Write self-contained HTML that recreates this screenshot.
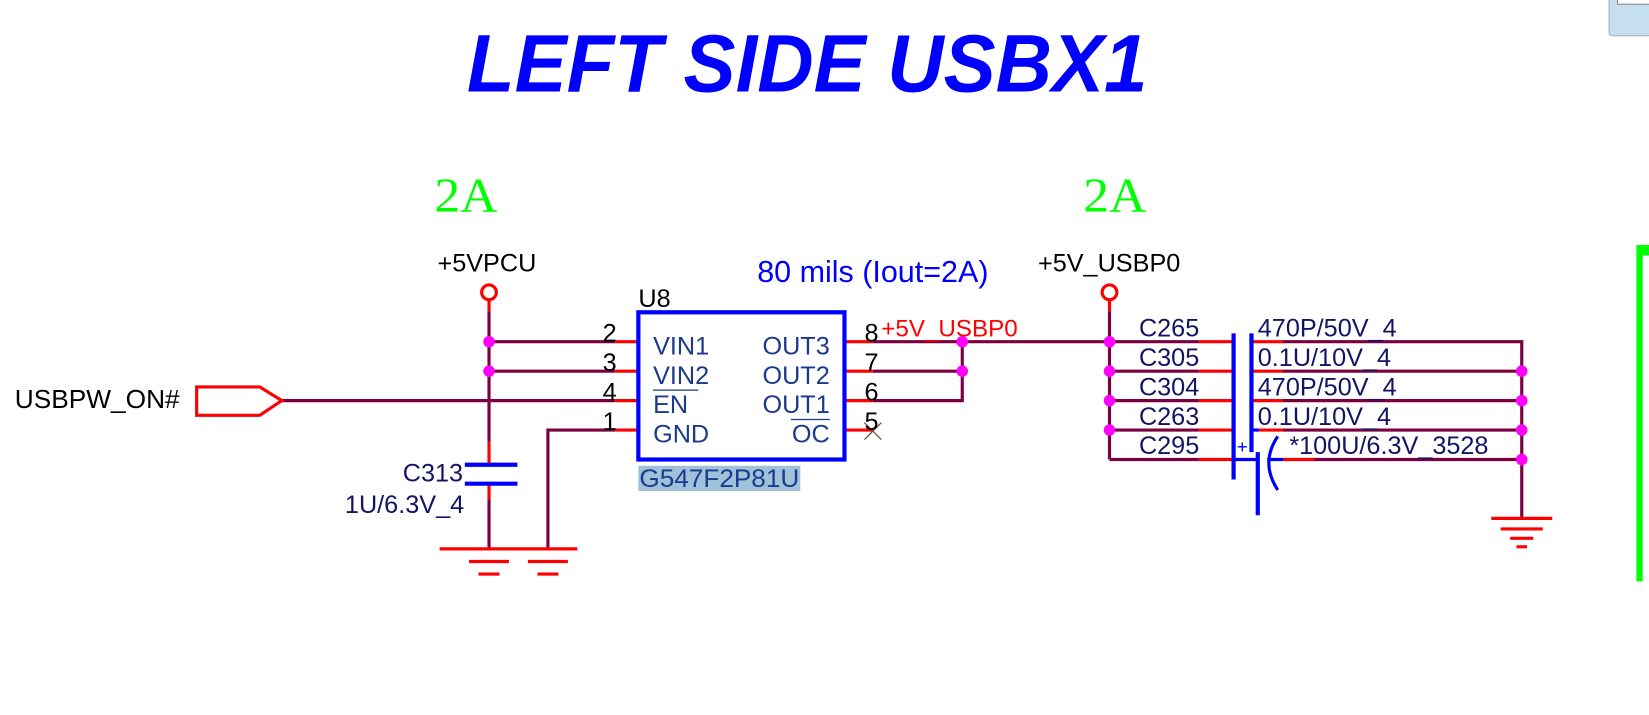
<!DOCTYPE html>
<html><head><meta charset="utf-8"><style>
html,body{margin:0;padding:0;background:#fff;}
svg{display:block;}
text{font-family:"Liberation Sans",sans-serif;}
.mono{font-family:"Liberation Serif",serif;}
</style></head><body>
<svg width="1649" height="715" viewBox="0 0 1568 680" preserveAspectRatio="none" xmlns="http://www.w3.org/2000/svg">
<rect x="0" y="0" width="1568" height="680" fill="#fff"/>
<rect x="1530" y="-4" width="44" height="38" rx="3" fill="#c5dff0" stroke="#aab" stroke-width="1"/>
<rect x="1538" y="-2" width="40" height="6" fill="#fff" stroke="#888" stroke-width="1"/>
<rect x="1556" y="233" width="14" height="320" fill="#00ff00"/>
<rect x="1562" y="243" width="8" height="310" fill="#fff"/>
<text x="444" y="87" font-size="78" font-weight="bold" font-style="italic" fill="#0000ff" textLength="647" lengthAdjust="spacingAndGlyphs">LEFT SIDE USBX1</text>
<text class="mono" x="413" y="201" font-size="46" fill="#00ff00" textLength="60" lengthAdjust="spacingAndGlyphs">2A</text>
<text class="mono" x="1030" y="201" font-size="46" fill="#00ff00" textLength="60" lengthAdjust="spacingAndGlyphs">2A</text>

<text x="416" y="258" font-size="24" fill="#000">+5VPCU</text>
<text x="987" y="258" font-size="24" fill="#000">+5V_USBP0</text>
<text x="720" y="268" font-size="29" fill="#0000ff">80 mils (Iout=2A)</text>
<text x="14" y="388" font-size="25" fill="#000">USBPW_ON#</text>

<g fill="none" stroke-width="3">
<circle cx="465" cy="278" r="7" stroke="#ff0000"/>
<circle cx="1055" cy="278" r="7" stroke="#ff0000"/>
<line x1="465" y1="285" x2="465" y2="296" stroke="#ff0000"/>
<line x1="1055" y1="285" x2="1055" y2="296" stroke="#ff0000"/>
<g stroke="#7a0040">
<line x1="465" y1="296" x2="465" y2="420"/>
<line x1="465" y1="475" x2="465" y2="522"/>
<line x1="465" y1="325" x2="585" y2="325"/>
<line x1="465" y1="353" x2="585" y2="353"/>
<line x1="268" y1="381" x2="585" y2="381"/>
<polyline points="521,522 521,409 585,409"/>
<line x1="830" y1="325" x2="1055" y2="325"/>
<polyline points="830,353 915,353"/>
<polyline points="830,381 915,381 915,325"/>
<line x1="1055" y1="296" x2="1055" y2="437"/>
<line x1="1055" y1="353" x2="1140" y2="353"/>
<line x1="1055" y1="381" x2="1140" y2="381"/>
<line x1="1055" y1="409" x2="1140" y2="409"/>
<line x1="1055" y1="437" x2="1140" y2="437"/>
<line x1="1055" y1="325" x2="1140" y2="325"/>
<polyline points="1220,325 1447,325 1447,492"/>
<line x1="1220" y1="353" x2="1447" y2="353"/>
<line x1="1220" y1="381" x2="1447" y2="381"/>
<line x1="1220" y1="409" x2="1447" y2="409"/>
<line x1="1250" y1="437" x2="1447" y2="437"/>
</g>
<g stroke="#ff0000">
<line x1="465" y1="420" x2="465" y2="442"/>
<line x1="465" y1="460" x2="465" y2="475"/>
<line x1="585" y1="325" x2="607" y2="325"/>
<line x1="585" y1="353" x2="607" y2="353"/>
<line x1="585" y1="381" x2="607" y2="381"/>
<line x1="585" y1="409" x2="607" y2="409"/>
<line x1="803" y1="325" x2="830" y2="325"/>
<line x1="803" y1="353" x2="830" y2="353"/>
<line x1="803" y1="381" x2="830" y2="381"/>
<line x1="803" y1="409" x2="830" y2="409"/>
<line x1="1140" y1="325" x2="1172" y2="325"/>
<line x1="1140" y1="353" x2="1172" y2="353"/>
<line x1="1140" y1="381" x2="1172" y2="381"/>
<line x1="1140" y1="409" x2="1172" y2="409"/>
<line x1="1140" y1="437" x2="1172" y2="437"/>
<line x1="1190" y1="325" x2="1220" y2="325"/>
<line x1="1190" y1="353" x2="1220" y2="353"/>
<line x1="1190" y1="381" x2="1220" y2="381"/>
<line x1="1197" y1="409" x2="1220" y2="409"/>
<line x1="1220" y1="437" x2="1250" y2="437"/>
<line x1="418" y1="522" x2="549" y2="522"/>
<line x1="446" y1="534" x2="484" y2="534"/>
<line x1="502" y1="534" x2="540" y2="534"/>
<line x1="455" y1="546" x2="475" y2="546"/>
<line x1="511" y1="546" x2="531" y2="546"/>
<line x1="1418" y1="493" x2="1476" y2="493"/>
<line x1="1427" y1="503" x2="1467" y2="503"/>
<line x1="1436" y1="512" x2="1458" y2="512"/>
<line x1="1442" y1="520" x2="1452" y2="520"/>
<polygon points="187,368 247,368 268,381 247,395 187,395"/>
</g>
<g stroke="#0000ff" stroke-width="4">
<line x1="442" y1="442" x2="492" y2="442"/>
<line x1="442" y1="460" x2="492" y2="460"/>
<line x1="1173" y1="317" x2="1173" y2="456"/>
<line x1="1190" y1="317" x2="1190" y2="430"/>
<line x1="1196" y1="430" x2="1196" y2="490"/>
<line x1="1172" y1="437" x2="1196" y2="437" stroke-width="3"/>
<line x1="1205" y1="437" x2="1220" y2="437" stroke-width="3"/>
<line x1="1190" y1="409" x2="1197" y2="409" stroke-width="3"/>
<path d="M1215 415 Q1198 440 1215 466" stroke-width="3"/>
</g>
<text x="1176" y="431" font-size="18" fill="#0000ff">+</text>
<rect x="607" y="297" width="196" height="140" stroke="#0000ff" stroke-width="4"/>
<line x1="822" y1="402" x2="838" y2="418" stroke="#6b4a3a" stroke-width="1.2"/>
<line x1="838" y1="402" x2="822" y2="418" stroke="#6b4a3a" stroke-width="1.2"/>
</g>
<g fill="#ff00ff">
<circle cx="465" cy="325" r="5.5"/><circle cx="465" cy="353" r="5.5"/>
<circle cx="915" cy="325" r="5.5"/><circle cx="915" cy="353" r="5.5"/>
<circle cx="1055" cy="325" r="5.5"/><circle cx="1055" cy="353" r="5.5"/>
<circle cx="1055" cy="381" r="5.5"/><circle cx="1055" cy="409" r="5.5"/>
<circle cx="1447" cy="353" r="5.5"/><circle cx="1447" cy="381" r="5.5"/>
<circle cx="1447" cy="409" r="5.5"/><circle cx="1447" cy="437" r="5.5"/>
</g>
<rect x="607" y="443" width="154" height="24" fill="#9fc2da"/>
<g font-size="24" fill="#1b3a8c">
<text x="608" y="463" textLength="152" lengthAdjust="spacingAndGlyphs">G547F2P81U</text>
<text x="621" y="337">VIN1</text>
<text x="621" y="365">VIN2</text>
<text x="621" y="393">EN</text>
<text x="621" y="421">GND</text>
<text x="789" y="337" text-anchor="end">OUT3</text>
<text x="789" y="365" text-anchor="end">OUT2</text>
<text x="789" y="393" text-anchor="end">OUT1</text>
<text x="789" y="421" text-anchor="end">OC</text>
</g>
<line x1="621" y1="371" x2="664" y2="371" stroke="#1b3a8c" stroke-width="1.2"/>
<line x1="752" y1="399" x2="789" y2="399" stroke="#1b3a8c" stroke-width="1.2"/>
<g font-size="24" fill="#000">
<text x="607" y="292">U8</text>
<text x="573" y="325">2</text>
<text x="573" y="353">3</text>
<text x="573" y="381">4</text>
<text x="573" y="409">1</text>
<text x="822" y="325">8</text>
<text x="822" y="353">7</text>
<text x="822" y="381">6</text>
<text x="822" y="409">5</text>
</g>
<text x="838" y="320" font-size="23" fill="#ff0000">+5V_USBP0</text>
<g font-size="24" fill="#141464">
<text x="383" y="458">C313</text>
<text x="328" y="488">1U/6.3V_4</text>
<text x="1083" y="320">C265</text>
<text x="1083" y="348">C305</text>
<text x="1083" y="376">C304</text>
<text x="1083" y="404">C263</text>
<text x="1083" y="432">C295</text>
<text x="1196" y="320">470P/50V_4</text>
<text x="1196" y="348">0.1U/10V_4</text>
<text x="1196" y="376">470P/50V_4</text>
<text x="1196" y="404">0.1U/10V_4</text>
<text x="1226" y="432">*100U/6.3V_3528</text>
</g>
</svg>
</body></html>
